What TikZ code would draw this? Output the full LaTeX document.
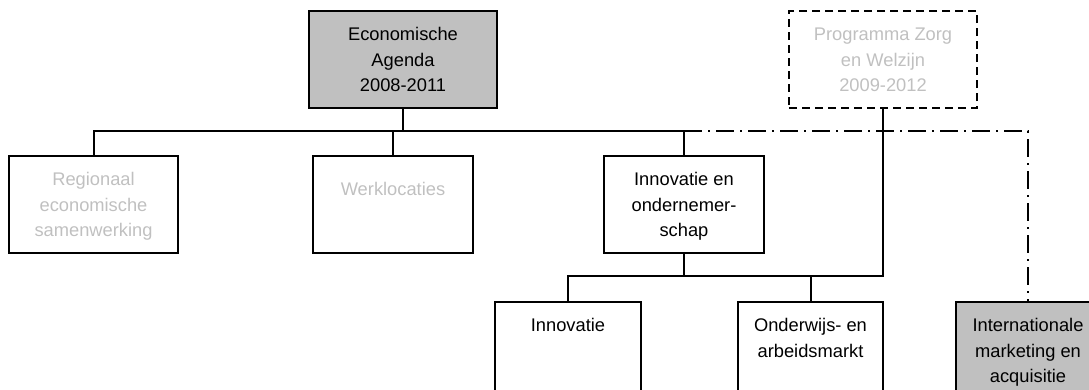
\documentclass[tikz,border=0pt]{standalone}
\usepackage{fontspec}
\setmainfont{Liberation Sans}
\definecolor{boxgray}{RGB}{192,192,192}
\definecolor{fadegray}{RGB}{192,192,192}

\begin{document}
\begin{tikzpicture}[x=1pt, y=-1pt,
		orgbox/.style={draw, line width=2pt, anchor=north, inner xsep=0pt, inner ysep=12pt,
			minimum height=97pt, font=\fontsize{18.3}{25.5}\selectfont,
			execute at begin node={\begin{minipage}[t][73pt][t]{140pt}\centering\strut},
			execute at end node={\end{minipage}}},
		link/.style={line width=2pt},
		dashdotlink/.style={line width=2pt, dash pattern=on 18pt off 6pt on 2pt off 6pt},
		dashedbox/.style={dash pattern=on 8pt off 5pt}]
	\useasboundingbox (0,0) rectangle (1089,389);
	\clip (0,0) rectangle (1089,389);
	
	%top level
	\node at (403,10) [orgbox, fill=boxgray, minimum width=188pt] (eco) {Economische\\Agenda\\2008-2011};
	\node at (883,10) [orgbox, dashedbox, text=fadegray, minimum width=188pt] (prog) {Programma Zorg\\en Welzijn\\2009-2012};
	
	%second level
	\node at (93.5,155) [orgbox, text=fadegray, minimum width=169pt] (reg) {Regionaal\\economische\\samenwerking};
	\node at (393,155) [orgbox, text=fadegray, minimum width=160pt] (werk) {\raisebox{-10pt}{Werklocaties}};
	\node at (684,155) [orgbox, minimum width=160pt] (ino) {Innovatie en\\ondernemer-\\schap};
	
	%third level
	\node at (568,301) [orgbox, minimum width=146pt] (innov) {Innovatie};
	\node at (810.5,301) [orgbox, minimum width=145pt] (ond) {Onderwijs- en\\arbeidsmarkt};
	\node at (1028,301) [orgbox, fill=boxgray, minimum width=144pt] (intl) {Internationale\\marketing en\\acquisitie};
	
	%connectors
	\coordinate (bus) at (403,131);
	\coordinate (sub) at (684,276);
	\draw[link] (eco.south) -- (bus);
	\draw[link] (reg.north) |- (bus -| ino.north) -- (ino.north);
	\draw[link] (werk.north) -- (werk.north |- bus);
	\draw[dashdotlink] (bus -| ino.north) -| (intl.north);
	\draw[link] (ino.south) -- (sub);
	\draw[link] (innov.north) |- (sub -| prog.south) -- (prog.south);
	\draw[link] (ond.north) -- (ond.north |- sub);
\end{tikzpicture}
\end{document}
